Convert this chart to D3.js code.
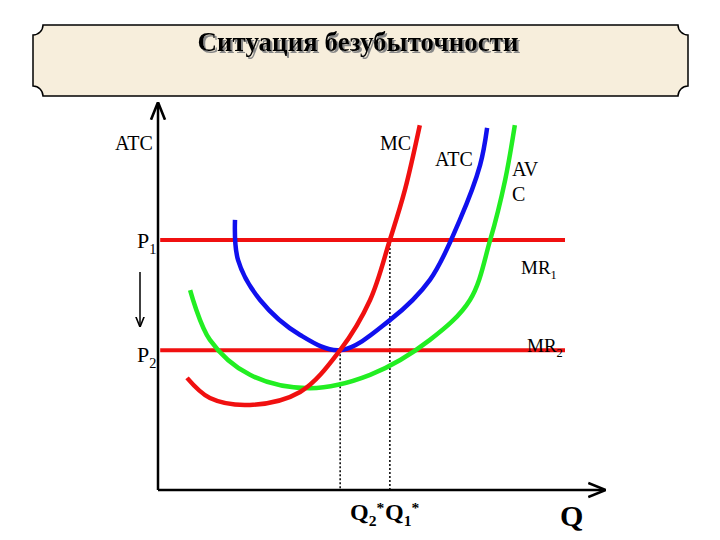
<!DOCTYPE html>
<html><head><meta charset="utf-8">
<script src="https://cdn.jsdelivr.net/npm/d3@7"></script>
<style>body{margin:0;background:#fff}svg{font-family:"Liberation Serif",serif}</style>
</head><body><div id="chart-area"></div>
<script>
const title = "Ситуация безубыточности"
// curves in (Q, price) units, 0..100
const mc = [[6.6,29.5],[11.8,24.2],[20.9,22.4],[32.3,25.8],[41.4,36.8],[48.2,50],[52.7,65.8],[56.1,78.9],[59.5,96]]
const atc = [[17.5,71.1],[18.2,60.5],[23.2,50],[32.3,40.8],[41.4,36.8],[52.7,44.7],[61.8,55.3],[68.6,71.1],[73.2,85.5],[74.8,95.3]]
const avc = [[7.3,52.6],[11.8,39.5],[20.9,30.3],[34.5,26.8],[48.2,30.3],[61.8,39.5],[70.9,50],[75.5,65.8],[78.9,81.6],[81.1,96]]
const p1 = 65.8, p2 = 36.8
const q1 = 52.7, q2 = 41.4
const mrEnd = 92.5

const w = 720, h = 540
const svg = d3.select("#chart-area").append("svg").attr("width", w).attr("height", h)

const x = d3.scaleLinear().domain([0, 100]).range([158, 598])
const y = d3.scaleLinear().domain([0, 100]).range([490, 110])

const defs = svg.append("defs")
defs.append("filter").attr("id", "shadow").append("feDropShadow")
  .attr("dx", 2).attr("dy", 2).attr("stdDeviation", 0.6).attr("flood-color", "#888")
defs.append("marker").attr("id", "arr").attr("viewBox", "0 0 10 10").attr("refX", 9).attr("refY", 5)
  .attr("markerWidth", 7).attr("markerHeight", 7).attr("orient", "auto")
  .append("path").attr("d", "M0,1 L10,5 L0,9").attr("fill", "none").attr("stroke", "#000").attr("stroke-width", 1.5)

// banner
const bx0 = 33, bx1 = 688, by0 = 25, by1 = 96, r = 10
svg.append("path")
  .attr("d", `M${bx0+r},${by0} H${bx1-r} A${r},${r} 0 0 0 ${bx1},${by0+r} V${by1-r} A${r},${r} 0 0 0 ${bx1-r},${by1} H${bx0+r} A${r},${r} 0 0 0 ${bx0},${by1-r} V${by0+r} A${r},${r} 0 0 0 ${bx0+r},${by0} Z`)
  .attr("fill", "#f7eedc").attr("stroke", "#000").attr("stroke-width", 1.5)
svg.append("text").attr("x", 358).attr("y", 51).attr("text-anchor", "middle")
  .attr("font-size", 27).attr("font-weight", "bold").attr("fill", "#000")
  .attr("filter", "url(#shadow)").text(title)

// axes
svg.append("line").attr("x1", x(0)).attr("y1", y(0)).attr("x2", x(0)).attr("y2", 104)
  .attr("stroke", "#000").attr("stroke-width", 2.5).attr("marker-end", "url(#arr)")
svg.append("line").attr("x1", x(0)).attr("y1", y(0)).attr("x2", 604).attr("y2", y(0))
  .attr("stroke", "#000").attr("stroke-width", 2.5).attr("marker-end", "url(#arr)")

// dotted guides
svg.selectAll(".guide").data([[q2, p2], [q1, p1]]).enter().append("line")
  .attr("x1", d => x(d[0])).attr("x2", d => x(d[0])).attr("y1", d => y(d[1])).attr("y2", y(0))
  .attr("stroke", "#000").attr("stroke-width", 1.5).attr("stroke-dasharray", "2,2")

// MR lines
svg.selectAll(".mr").data([p1, p2]).enter().append("line")
  .attr("x1", x(0.5)).attr("x2", x(mrEnd)).attr("y1", d => y(d)).attr("y2", d => y(d))
  .attr("stroke", "#f01010").attr("stroke-width", 4)

const line = d3.line().x(d => x(d[0])).y(d => y(d[1])).curve(d3.curveCatmullRom)
const curves = [[avc, "#22ee22"], [atc, "#1010ee"], [mc, "#f01010"]]
svg.selectAll(".curve").data(curves).enter().append("path")
  .attr("d", d => line(d[0])).attr("fill", "none").attr("stroke", d => d[1]).attr("stroke-width", 4.5)

// down arrow
svg.append("line").attr("x1", 140).attr("y1", 272).attr("x2", 140).attr("y2", 326)
  .attr("stroke", "#000").attr("stroke-width", 1.5).attr("marker-end", "url(#arr)")

// labels
function label(tx, ty, main, sub, size, bold, sup) {
  const t = svg.append("text").attr("x", tx).attr("y", ty).attr("font-size", size)
    .attr("font-weight", bold ? "bold" : "normal")
  t.append("tspan").text(main)
  if (sub) t.append("tspan").attr("font-size", size * 0.65).attr("dy", size * 0.25).text(sub)
  if (sup) t.append("tspan").attr("font-size", size * 0.65).attr("dy", -size * 0.55).text(sup)
}
label(115, 150, "ATC", null, 20)
label(380, 150, "MC", null, 20)
label(435, 166, "ATC", null, 20)
label(512, 176, "AV", null, 20)
label(512, 201, "C", null, 20)
label(137, 248, "P", "1", 22)
label(137, 362, "P", "2", 22)
label(521, 274, "MR", "1", 19)
label(527, 352, "MR", "2", 19)
label(350, 520, "Q", "2", 24, true, "*")
label(385, 520, "Q", "1", 24, true, "*")
label(560, 526, "Q", null, 30, true)
</script></body></html>
